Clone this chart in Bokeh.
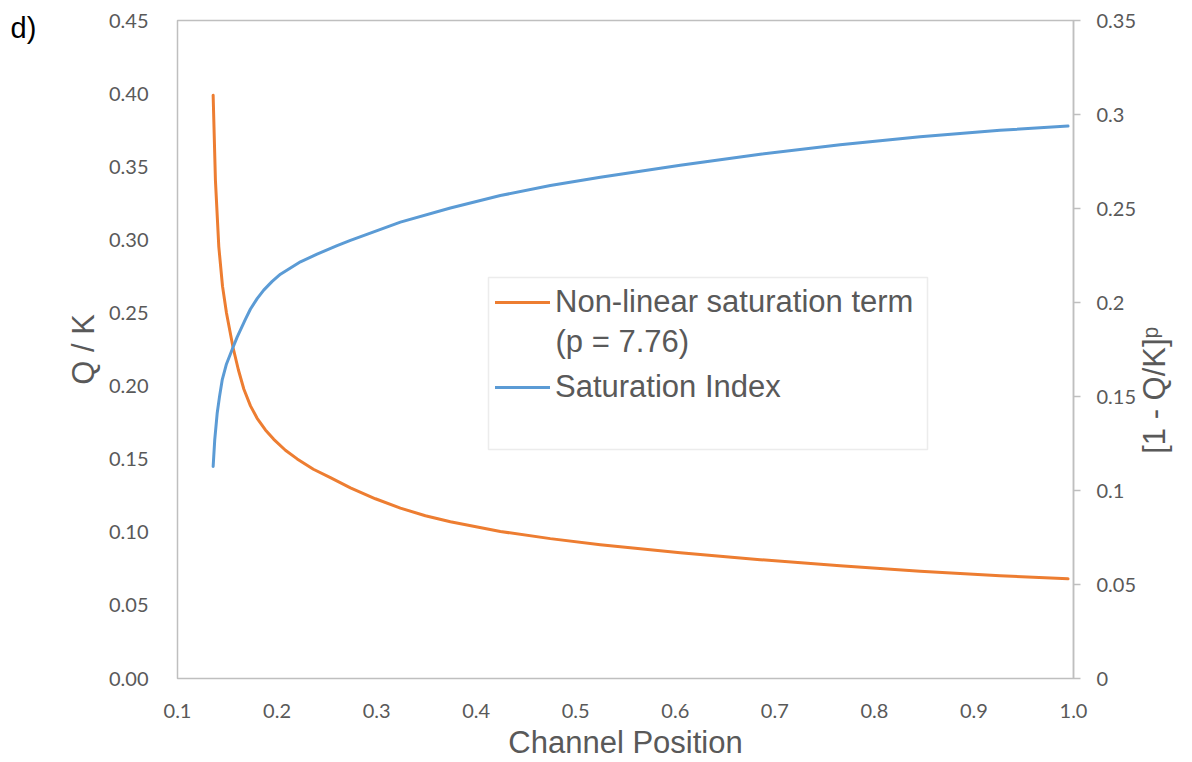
import math
from bokeh.plotting import figure
from bokeh.models import (Range1d, LinearAxis, FixedTicker, Legend, LegendItem,
                          Label, BoxAnnotation, ColumnDataSource, NumeralTickFormatter)
from bokeh.embed import file_html
from bokeh.resources import INLINE

# ---------------- data ----------------
# Saturation Index  (Q / K, left axis)
si_position = [0.1358, 0.1374, 0.1399, 0.1422, 0.1449, 0.1492, 0.1559, 0.1599, 0.1683,
               0.1733, 0.1800, 0.1866, 0.1951, 0.2034, 0.2235, 0.2402, 0.2603, 0.2737,
               0.3239, 0.3741, 0.4243, 0.4745, 0.5247, 0.6050, 0.6853, 0.7656, 0.8459,
               0.9262, 0.9945]
saturation_index = [0.1450, 0.1632, 0.1816, 0.1928, 0.2042, 0.2151, 0.2267, 0.2335, 0.2458,
                    0.2527, 0.2598, 0.2656, 0.2716, 0.2765, 0.2850, 0.2902, 0.2960, 0.2996,
                    0.3121, 0.3218, 0.3303, 0.3371, 0.3428, 0.3510, 0.3585, 0.3650, 0.3705,
                    0.3749, 0.3778]

# Non-linear saturation term ([1 - Q/K]^p, right axis)
nl_position = [0.1358, 0.1381, 0.1415, 0.1452, 0.1492, 0.1559, 0.1612, 0.1666, 0.1733,
               0.1800, 0.1883, 0.1967, 0.2084, 0.2202, 0.2365, 0.2536, 0.2737, 0.2988,
               0.3239, 0.3490, 0.3741, 0.4243, 0.4745, 0.5247, 0.6050, 0.6853, 0.7656,
               0.8459, 0.9262, 0.9945]
nonlinear_term = [0.3102, 0.2650, 0.2296, 0.2087, 0.1944, 0.1758, 0.1641, 0.1540, 0.1450,
                  0.1384, 0.1322, 0.1272, 0.1214, 0.1168, 0.1113, 0.1068, 0.1014, 0.0956,
                  0.0906, 0.0866, 0.0834, 0.0782, 0.0744, 0.0712, 0.0669, 0.0632, 0.0600,
                  0.0571, 0.0547, 0.0530]

x_ticks = [0.1, 0.2, 0.3, 0.4, 0.5, 0.6, 0.7, 0.8, 0.9, 1.0]
x_tick_labels = ["0.1", "0.2", "0.3", "0.4", "0.5", "0.6", "0.7", "0.8", "0.9", "1.0"]
left_ticks = [0.0, 0.05, 0.1, 0.15, 0.2, 0.25, 0.3, 0.35, 0.4, 0.45]
left_tick_labels = ["0.00", "0.05", "0.10", "0.15", "0.20", "0.25", "0.30", "0.35", "0.40", "0.45"]
right_ticks = [0.0, 0.05, 0.1, 0.15, 0.2, 0.25, 0.3, 0.35]
right_tick_labels = ["0", "0.05", "0.1", "0.15", "0.2", "0.25", "0.3", "0.35"]

series_names = ["Non-linear saturation term", "(p = 7.76)", "Saturation Index"]
right_axis_title = "[1 - Q/K]\u1d56"
right_title_start = 0.1195   # where the rotated right-axis title begins (right-axis units)

# ---------------- styles ----------------
ORANGE = "#ED7D31"
BLUE = "#5B9BD5"
GRID_GRAY = "#BFBFBF"
TEXT_GRAY = "#595959"
TICK_FONT = "Lato"
TITLE_FONT = "Liberation Sans"

p = figure(width=1192, height=762, output_backend="svg", toolbar_location=None,
           x_range=Range1d(0.1, 1.0), y_range=Range1d(0.0, 0.45),
           min_border_left=177, min_border_right=119, min_border_top=20, min_border_bottom=83)
p.background_fill_color = "white"
p.border_fill_color = "white"
p.outline_line_color = GRID_GRAY
p.outline_line_width = 1.5
p.xgrid.visible = False
p.ygrid.visible = False

# panel tag "d)" drawn through the title (side panels are not clipped)
p.title.text = "d)"
p.title.align = "left"
p.title.vertical_align = "bottom"
p.title.offset = -167
p.title.text_font = TITLE_FONT
p.title.text_font_size = "29px"
p.title.text_font_style = "normal"
p.title.text_color = "black"
try:
    p.title.standoff = -46
except Exception:
    p.title.standoff = -12

p.extra_y_ranges = {"right": Range1d(0.0, 0.35)}

# x axis
xa = p.xaxis[0]
xa.ticker = FixedTicker(ticks=x_ticks)
xa.formatter = NumeralTickFormatter(format="0.0")
xa.major_label_overrides = dict(zip(x_ticks, x_tick_labels))
xa.axis_line_color = None
xa.major_tick_line_color = None
xa.minor_tick_line_color = None
xa.major_label_standoff = 19
xa.major_label_text_font = TICK_FONT
xa.major_label_text_font_size = "20px"
xa.major_label_text_color = TEXT_GRAY
xa.axis_label = "Channel Position"
xa.axis_label_text_font = TITLE_FONT
xa.axis_label_text_font_size = "31px"
xa.axis_label_text_font_style = "normal"
xa.axis_label_text_color = TEXT_GRAY
xa.axis_label_standoff = 4

# left axis
ya = p.yaxis[0]
ya.ticker = FixedTicker(ticks=left_ticks)
ya.formatter = NumeralTickFormatter(format="0.00")
ya.major_label_overrides = dict(zip(left_ticks, left_tick_labels))
ya.axis_line_color = None
ya.major_tick_line_color = None
ya.minor_tick_line_color = None
ya.major_label_standoff = 23
ya.major_label_text_font = TICK_FONT
ya.major_label_text_font_size = "20px"
ya.major_label_text_color = TEXT_GRAY
ya.axis_label = "Q / K"
ya.axis_label_text_font = TITLE_FONT
ya.axis_label_text_font_size = "31px"
ya.axis_label_text_font_style = "normal"
ya.axis_label_text_color = TEXT_GRAY
ya.axis_label_standoff = 5

# right axis
ra = LinearAxis(y_range_name="right")
ra.ticker = FixedTicker(ticks=right_ticks)
ra.formatter = NumeralTickFormatter(format="0.[00]")
ra.major_label_overrides = dict(zip(right_ticks, right_tick_labels))
ra.axis_line_color = GRID_GRAY
ra.axis_line_width = 1.5
ra.major_tick_line_color = GRID_GRAY
ra.major_tick_line_width = 1.5
ra.major_tick_out = 7
ra.major_tick_in = 0
ra.minor_tick_line_color = None
ra.major_label_standoff = 16
ra.major_label_text_font = TICK_FONT
ra.major_label_text_font_size = "20px"
ra.major_label_text_color = TEXT_GRAY
p.add_layout(ra, "right")

# right-axis title: rotated (reads bottom-to-top) label on an outer right axis
rt = LinearAxis(y_range_name="right")
rt.ticker = FixedTicker(ticks=[right_title_start])
rt.major_label_overrides = {right_title_start: right_axis_title}
rt.major_label_orientation = math.pi / 2
rt.axis_line_color = None
rt.major_tick_line_color = None
rt.minor_tick_line_color = None
rt.major_tick_out = 0
rt.major_tick_in = 0
rt.major_label_standoff = 15
rt.major_label_text_font = TITLE_FONT
rt.major_label_text_font_size = "31px"
rt.major_label_text_color = TEXT_GRAY
p.add_layout(rt, "right")

# series
src_nl = ColumnDataSource(dict(x=nl_position, y=nonlinear_term))
src_si = ColumnDataSource(dict(x=si_position, y=saturation_index))
r_nl = p.line("x", "y", source=src_nl, y_range_name="right", line_color=ORANGE,
              line_width=3, line_cap="round", line_join="round")
r_si = p.line("x", "y", source=src_si, line_color=BLUE,
              line_width=3, line_cap="round", line_join="round")

# legend frame
box = BoxAnnotation(left=311, right=750, top=401, bottom=229,
                    left_units="screen", right_units="screen",
                    top_units="screen", bottom_units="screen",
                    fill_color="white", fill_alpha=1.0,
                    line_color=GRID_GRAY, line_width=1.5, level="annotation")
p.add_layout(box)

legend = Legend(items=[LegendItem(label=series_names[0], renderers=[r_nl]),
                       LegendItem(label=series_names[2], renderers=[r_si])],
                location=(311, 265), orientation="vertical",
                padding=7, spacing=47, margin=0,
                glyph_width=55, glyph_height=38, label_height=38, label_standoff=5,
                label_text_font=TITLE_FONT, label_text_font_size="31px",
                label_text_color=TEXT_GRAY,
                border_line_alpha=0, background_fill_alpha=0)
p.add_layout(legend)

p.add_layout(Label(x=378, y=337, x_units="screen", y_units="screen",
                   text=series_names[1], text_font=TITLE_FONT, text_font_size="31px",
                   text_color=TEXT_GRAY, text_baseline="middle", text_align="left"))

open("out.html", "w").write(file_html(p, INLINE))
